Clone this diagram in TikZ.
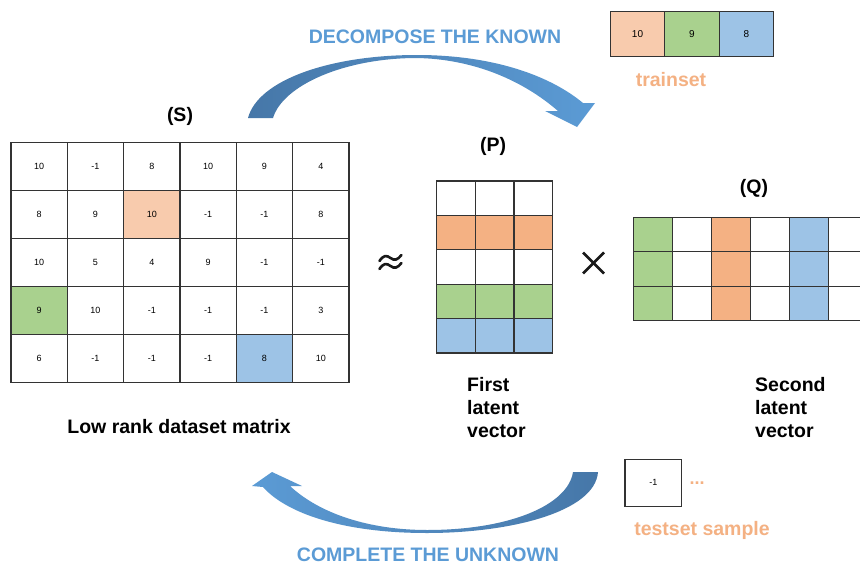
\documentclass[tikz,border=0pt]{standalone}
\usepackage{fontspec}
\setmainfont{Liberation Sans}
\definecolor{peach}{HTML}{F8CBAD}
\definecolor{porange}{HTML}{F4B183}
\definecolor{pgreen}{HTML}{A9D18E}
\definecolor{pblue}{HTML}{9DC3E6}
\definecolor{lblue}{HTML}{5B9BD5}
\definecolor{dblue}{HTML}{4677A8}
\definecolor{txtorange}{HTML}{F4B183}
\definecolor{gridc}{HTML}{333333}
\begin{document}
\begin{tikzpicture}[x=1pt,y=-1pt,
  cellbase/.style={draw=gridc, line width=1.1pt, inner sep=0pt, font=\fontsize{9}{10}\selectfont},
  scell/.style={cellbase, minimum width=56.33pt, minimum height=48pt},
  pcell/.style={cellbase, minimum width=38.67pt, minimum height=34.4pt},
  qcell/.style={cellbase, minimum width=39pt, minimum height=34.4pt},
  tcell/.style={cellbase, font=\fontsize{10}{11}\selectfont, minimum width=54.5pt, minimum height=45.5pt},
  lbl/.style={font=\fontsize{19.5}{23}\selectfont\bfseries, inner sep=0pt},
  bluetxt/.style={lbl, text=lblue},
  orangetxt/.style={lbl, text=txtorange},
  opline/.style={line width=2.6pt, line cap=round, black!90}]
\useasboundingbox[fill=white] (0,0) rectangle (860,565);

% ---- S matrix
\foreach \v/\f [count=\i from 0] in {10/white,-1/white,8/white,10/white,9/white,4/white,
  8/white,9/white,10/peach,-1/white,-1/white,8/white,
  10/white,5/white,4/white,9/white,-1/white,-1/white,
  9/pgreen,10/white,-1/white,-1/white,-1/white,3/white,
  6/white,-1/white,-1/white,-1/white,8/pblue,10/white}{
  \pgfmathtruncatemacro{\r}{int(\i/6)}
  \pgfmathtruncatemacro{\c}{mod(\i,6)}
  \node[scell, fill=\f] (S-\r-\c) at ({11+56.33*(\c+0.5)},{142.7+48*(\r+0.5)}) {\v};
}
\node[lbl] (Slabel) at (180,116) {(S)};
\node[lbl] (Scap) at (179,427) {Low rank dataset matrix};

% ---- approx (drawn)
\coordinate (approx) at (390.5,261);
\draw[opline] (approx) ++(-11,0) .. controls ++(4,-6) and ++(-4,-3) .. ++(11,-3)
  .. controls ++(4,3) and ++(-4,5) .. ++(11,-3);
\draw[opline] (approx) ++(-11,8) .. controls ++(4,-6) and ++(-4,-3) .. ++(11,-3)
  .. controls ++(4,3) and ++(-4,5) .. ++(11,-3);

% ---- P matrix
\foreach \f [count=\r from 0] in {white,porange,white,pgreen,pblue}{
  \foreach \c in {0,1,2}{
    \node[pcell, fill=\f] (P-\r-\c) at ({436.7+38.67*(\c+0.5)},{181+34.4*(\r+0.5)}) {};
  }
}
\node[lbl] (Plabel) at (493,146) {(P)};
\node[lbl, anchor=north west, align=left] (Pcap) at (467,377) {First\\latent\\vector};

% ---- times (drawn)
\coordinate (times) at (593.5,263);
\draw[opline, line cap=butt] (times) ++(-10.5,-10.5) -- ++(21,21);
\draw[opline, line cap=butt] (times) ++(10.5,-10.5) -- ++(-21,21);

% ---- Q matrix
\foreach \f [count=\c from 0] in {pgreen,white,porange,white,pblue,white,white}{
  \foreach \r in {0,1,2}{
    \node[qcell, fill=\f] (Q-\r-\c) at ({633.3+39*(\c+0.5)},{217.3+34.4*(\r+0.5)}) {};
  }
}
\node[lbl] (Qlabel) at (754,188) {(Q)};
\node[lbl, anchor=north west, align=left] (Qcap) at (755,377) {Second\\latent\\vector};

% ---- trainset
\node[tcell, fill=peach] (T0) at (637.5,34) {10};
\node[tcell, fill=pgreen] (T1) at (692,34) {9};
\node[tcell, fill=pblue] (T2) at (746.5,34) {8};
\node[orangetxt] (trainlbl) at (671,80) {trainset};

% ---- testset
\node[cellbase, minimum width=56.7pt, minimum height=46.7pt] (test) at (653.3,482.7) {-1};
\node[font=\fontsize{18}{18}\selectfont\bfseries, text=txtorange, anchor=base, inner sep=0pt] (dots) at (697,484.5) {...};
\node[orangetxt] (testlbl) at (702,530) {testset sample};

% ---- top arrow
\node[bluetxt] (dec) at (435,37) {DECOMPOSE THE KNOWN};
\shade[left color=dblue, right color=lblue]
  (248,118) .. controls (258,80) and (330,55) .. (417,55)
  .. controls (490,55) and (548,74) .. (583,103)
  -- (595,103) -- (577,127) -- (545,111) -- (558,111)
  .. controls (520,78) and (470,59) .. (417,58)
  .. controls (345,58) and (283,85) .. (273,118) -- cycle;

% ---- bottom arrow
\node[bluetxt] (comp) at (428,555) {COMPLETE THE UNKNOWN};
\shade[left color=lblue, right color=dblue]
  (598,472) .. controls (595,512) and (510,533) .. (427,533)
  .. controls (340,533) and (285,512) .. (263,487)
  -- (252,486) -- (272,472) -- (302,486) -- (290,486)
  .. controls (320,514) and (370,530) .. (427,530)
  .. controls (510,530) and (568,505) .. (573,472) -- cycle;
\end{tikzpicture}
\end{document}
